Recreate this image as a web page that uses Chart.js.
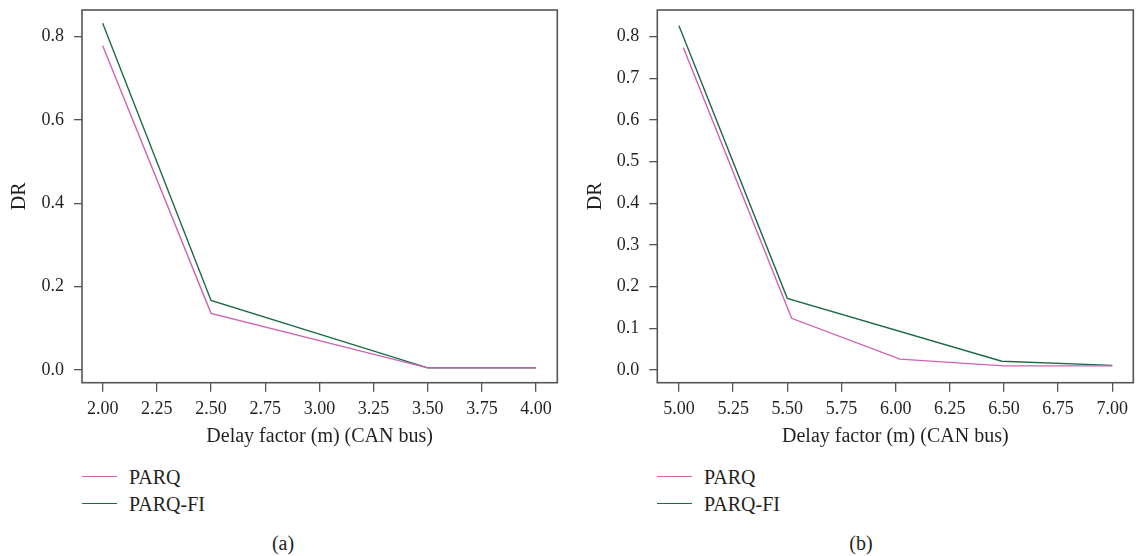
<!DOCTYPE html>
<html>
<head>
<meta charset="utf-8">
<script src="https://cdn.jsdelivr.net/npm/chart.js@4.4.1/dist/chart.umd.min.js"></script>
<style>
  html, body { margin: 0; padding: 0; background: #ffffff; }
  body { width: 1137px; height: 556px; position: relative; overflow: hidden; font-family: "Liberation Serif", serif; color: #231f20; }
  .panel { position: absolute; top: 0; height: 450px; }
  .legend { position: absolute; font-size: 20px; }
  .legend .item { position: absolute; white-space: nowrap; height: 24px; line-height: 24px; }
  .legend .swatch { position: absolute; left: 0; top: 11px; width: 35px; height: 0; border-top: 1.6px solid; }
  .legend .label { position: absolute; left: 47px; top: 0; }
  .caption { position: absolute; font-size: 20px; transform: translateX(-50%); line-height: 24px; }
</style>
</head>
<body>
<div class="panel" style="left:0px;width:568px;"><canvas id="chartA" width="568" height="450"></canvas></div>
<div class="panel" style="left:570px;width:567px;"><canvas id="chartB" width="567" height="450"></canvas></div>
<div class="legend" id="legendA" style="left:82px;top:465px;"></div>
<div class="legend" id="legendB" style="left:657px;top:465px;"></div>
<div class="caption" style="left:283px;top:531px;">(a)</div>
<div class="caption" style="left:861px;top:531px;">(b)</div>
<script>
// ---- Data ----
const seriesNames = ["PARQ", "PARQ-FI"];
const seriesColors = ["#d062b6", "#1c6b45"];

// Panel (a)
const xParqA   = [2.0, 2.5, 3.5, 4.0];
const yParqA   = [0.778, 0.136, 0.005, 0.005];
const xParqFiA = [2.0, 2.5, 3.5, 4.0];
const yParqFiA = [0.832, 0.167, 0.005, 0.005];

// Panel (b)
const xParqB   = [5.02, 5.52, 6.02, 6.5, 7.0];
const yParqB   = [0.774, 0.124, 0.026, 0.010, 0.010];
const xParqFiB = [5.0, 5.5, 6.49, 7.0];
const yParqFiB = [0.826, 0.172, 0.021, 0.011];

// Tick values
const xTicksA = [2.00, 2.25, 2.50, 2.75, 3.00, 3.25, 3.50, 3.75, 4.00];
const xTicksB = [5.00, 5.25, 5.50, 5.75, 6.00, 6.25, 6.50, 6.75, 7.00];
const yTicksA = [0.0, 0.2, 0.4, 0.6, 0.8];
const yTicksB = [0.0, 0.1, 0.2, 0.3, 0.4, 0.5, 0.6, 0.7, 0.8];

const xTitle = "Delay factor (m) (CAN bus)";
const yTitle = "DR";

// ---- Helpers ----
const FONT = "'Liberation Serif', serif";
const TEXT = "#231f20";
const AXIS = "#555555";

function pts(xs, ys) { return xs.map((x, i) => ({ x: x, y: ys[i] })); }

const boxPlugin = {
  id: 'box',
  afterDatasetsDraw(chart) {
    const { ctx, chartArea: a } = chart;
    ctx.save();
    ctx.strokeStyle = AXIS;
    ctx.lineWidth = 1.6;
    ctx.strokeRect(a.left, a.top, a.right - a.left, a.bottom - a.top);
    ctx.restore();
  }
};

function makeChart(id, sets, xTicks, yTicks, xRange, yAxisWidth, padRight, yTitlePad, ylabDec) {
  return new Chart(document.getElementById(id), {
    type: 'line',
    data: {
      datasets: sets.map((s, i) => ({
        label: seriesNames[i],
        data: s,
        borderColor: seriesColors[i],
        backgroundColor: seriesColors[i],
        borderWidth: 1.4,
        pointRadius: 0,
        tension: 0,
        fill: false
      }))
    },
    options: {
      responsive: false,
      devicePixelRatio: 1,
      animation: false,
      events: [],
      layout: { padding: { left: 0, top: 10, right: padRight, bottom: 0 } },
      plugins: { legend: { display: false }, tooltip: { enabled: false } },
      scales: {
        x: {
          type: 'linear',
          min: xRange[0], max: xRange[1],
          afterBuildTicks: (ax) => { ax.ticks = xTicks.map(v => ({ value: v })); },
          afterFit: (ax) => { ax.height = 450 - 382.7; ax.paddingLeft = 0; ax.paddingRight = 0; },
          ticks: {
            autoSkip: false, maxRotation: 0, padding: 7,
            color: TEXT, font: { family: FONT, size: 18 },
            callback: (v) => Number(v).toFixed(2)
          },
          grid: { display: true, drawOnChartArea: false, drawTicks: true, tickLength: 9, color: AXIS, lineWidth: 1.3 },
          border: { display: false },
          title: { display: true, text: xTitle, color: TEXT, font: { family: FONT, size: 20 }, padding: { top: 0, bottom: 1 } }
        },
        y: {
          type: 'linear',
          min: -0.0305, max: 0.864,
          afterBuildTicks: (ax) => { ax.ticks = yTicks.map(v => ({ value: v })); },
          afterFit: (ax) => { ax.width = yAxisWidth; ax.paddingTop = 0; ax.paddingBottom = 0; },
          ticks: {
            autoSkip: false, padding: 10,
            color: TEXT, font: { family: FONT, size: 18 },
            callback: (v) => Number(v).toFixed(ylabDec)
          },
          grid: { display: true, drawOnChartArea: false, drawTicks: true, tickLength: 8, color: AXIS, lineWidth: 1.3 },
          border: { display: false },
          title: { display: true, text: yTitle, color: TEXT, font: { family: FONT, size: 20 }, padding: { top: yTitlePad, bottom: 0 } }
        }
      }
    },
    plugins: [boxPlugin]
  });
}

makeChart('chartA', [pts(xParqA, yParqA), pts(xParqFiA, yParqFiA)], xTicksA, yTicksA, [1.9045, 4.098], 82, 10.7, 8, 1);
makeChart('chartB', [pts(xParqB, yParqB), pts(xParqFiB, yParqFiB)], xTicksB, yTicksB, [4.90, 7.097], 87.3, 3.7, 14, 1);

function buildLegend(id) {
  const el = document.getElementById(id);
  seriesNames.forEach((name, i) => {
    const item = document.createElement('div');
    item.className = 'item';
    item.style.top = (i * 27) + 'px';
    const sw = document.createElement('span');
    sw.className = 'swatch';
    sw.style.borderTopColor = seriesColors[i];
    const lb = document.createElement('span');
    lb.className = 'label';
    lb.textContent = name;
    item.appendChild(sw); item.appendChild(lb);
    el.appendChild(item);
  });
}
buildLegend('legendA');
buildLegend('legendB');
</script>
</body>
</html>
